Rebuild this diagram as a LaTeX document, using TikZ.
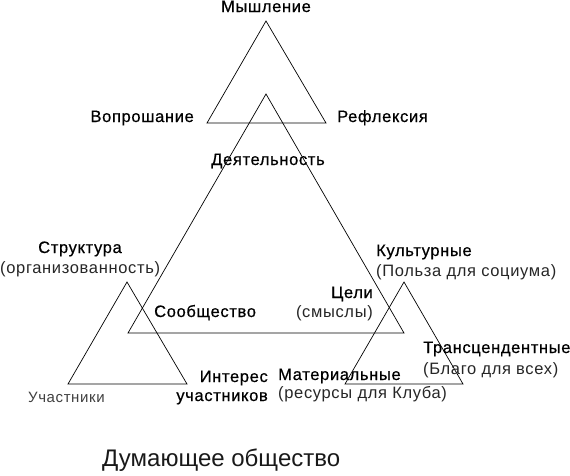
\documentclass[tikz,border=0pt]{standalone}
\usepackage{fontspec}
\setmainfont{Liberation Sans}
\newfontfamily\lblfont[LetterSpace=4,RawFeature={embolden=0.6}]{Liberation Sans}
\newfontfamily\sublblfont[LetterSpace=4]{Liberation Sans}
\begin{document}
\begin{tikzpicture}[x=1pt,y=-1pt,
  tri/.style={draw=black, line width=0.7pt, line join=miter},
  lbl/.style={inner sep=0pt, font=\lblfont\fontsize{16.5}{18}\selectfont, text=black},
  sublbl/.style={inner sep=0pt, font=\sublblfont\fontsize{16.5}{18}\selectfont, text=black!85},
  small/.style={inner sep=0pt, font=\sublblfont\fontsize{15}{17}\selectfont, text=black!75},
  title/.style={inner sep=0pt, font=\fontsize{24}{26}\selectfont, text=black!90}]
\useasboundingbox (0,0) rectangle (570,475);
% top triangle
\coordinate (tA) at (266,21); \coordinate (tB) at (207,123); \coordinate (tC) at (326,123);
% big triangle
\coordinate (bA) at (266,94); \coordinate (bB) at (128,333); \coordinate (bC) at (404,333);
% left small triangle
\coordinate (lA) at (127,282); \coordinate (lB) at (68,384); \coordinate (lC) at (187,384);
% right small triangle
\coordinate (rA) at (404,282); \coordinate (rB) at (345,384); \coordinate (rC) at (463,384);
\draw[tri] (tA) -- (tB) -- (tC) -- cycle;
\draw[tri] (bA) -- (bB) -- (bC) -- cycle;
\draw[tri] (lA) -- (lB) -- (lC) -- cycle;
\draw[tri] (rA) -- (rB) -- (rC) -- cycle;
% labels
\node[lbl, anchor=base] (mysh) at (266,12) {Мышление};
\node[lbl, anchor=base east] (vopr) at (194,122) {Вопрошание};
\node[lbl, anchor=base west] (refl) at (337,122) {Рефлексия};
\node[lbl, anchor=base] (deyat) at (268,165) {Деятельность};
\node[lbl, anchor=base] (strukt) at (80,253) {Структура};
\node[sublbl, anchor=base west] (org) at (0,273) {(организованность)};
\node[lbl, anchor=base west] (kult) at (376,256) {Культурные};
\node[sublbl, anchor=base west] (polza) at (376,276) {(Польза для социума)};
\node[lbl, anchor=base east] (tseli) at (373,298) {Цели};
\node[sublbl, anchor=base east] (smysl) at (373,317) {(смыслы)};
\node[lbl, anchor=base west] (soob) at (154,317) {Сообщество};
\node[lbl, anchor=base west] (trans) at (423,353) {Трансцендентные};
\node[sublbl, anchor=base west] (blago) at (423,374) {(Благо для всех)};
\node[lbl, anchor=base east] (inter) at (268,382) {Интерес};
\node[lbl, anchor=base east] (uch) at (268,401) {участников};
\node[lbl, anchor=base west] (mater) at (278,380) {Материальные};
\node[sublbl, anchor=base west] (res) at (278,398) {(ресурсы для Клуба)};
\node[small, anchor=base west] (uchast) at (28,402) {Участники};
\node[title, anchor=base west] (dum) at (102,466) {Думающее общество};
\end{tikzpicture}
\end{document}
